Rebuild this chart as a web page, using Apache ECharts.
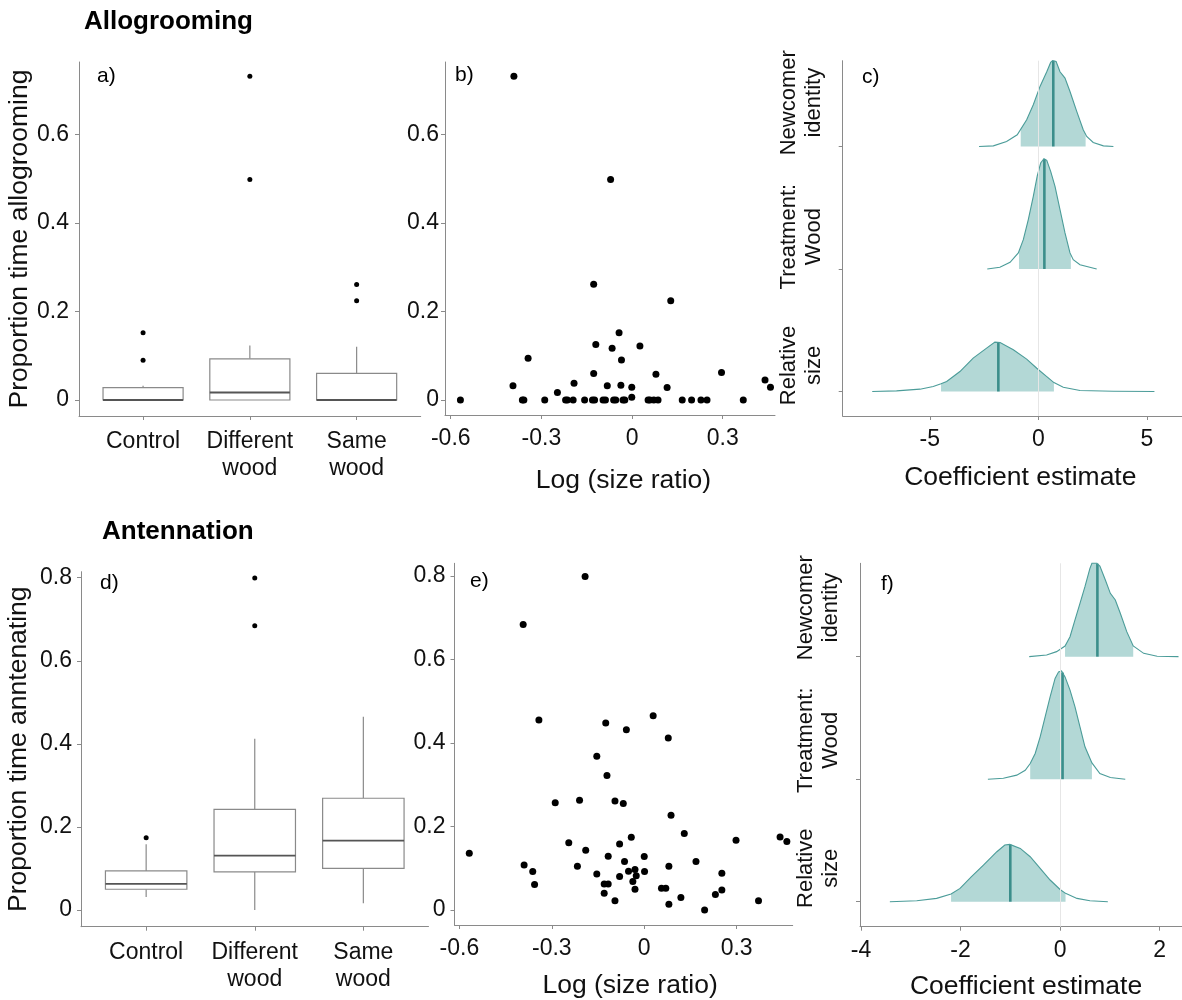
<!DOCTYPE html>
<html>
<head>
<meta charset="utf-8">
<script src="https://cdn.jsdelivr.net/npm/echarts@6/dist/echarts.min.js"></script>
<style>
  html, body { margin: 0; padding: 0; background: #fff; }
  #chart { width: 1182px; height: 1000px; }
</style>
</head>
<body>
<div id="chart"></div>
<script>
// ---------- data ----------
const treatmentCategories = ['Control', 'Different\nwood', 'Same\nwood'];
const effectNames = ['Relative\nsize', 'Treatment:\nWood', 'Newcomer\nidentity']; // rows 1..3, bottom to top

const groomProportionTicks = [0, 0.2, 0.4, 0.6];
const antProportionTicks = [0, 0.2, 0.4, 0.6, 0.8];
const sizeRatioTicks = [-0.6, -0.3, 0, 0.3];
const groomCoefTicks = [-5, 0, 5];
const antCoefTicks = [-4, -2, 0, 2];

// box statistics: [lower whisker, Q1, median, Q3, upper whisker]
const groomBoxStats = [
  [0, 0, 0, 0.028, 0.032],
  [0, 0, 0.017, 0.093, 0.123],
  [0, 0, 0, 0.060, 0.120]
];
const groomOutliers = [[1, 0.152], [1, 0.090], [2, 0.731], [2, 0.498], [3, 0.261], [3, 0.224]];

const antBoxStats = [
  [0.031, 0.050, 0.063, 0.094, 0.158],
  [0.000, 0.092, 0.131, 0.242, 0.412],
  [0.016, 0.100, 0.167, 0.269, 0.465]
];
const antOutliers = [[1, 0.174], [2, 0.799], [2, 0.684]];

// [log size ratio, proportion of time allogrooming]
const groomScatter = [
  [-0.391, 0.731], [-0.071, 0.498], [-0.127, 0.261], [0.128, 0.224], [-0.043, 0.152],
  [-0.120, 0.125], [0.026, 0.122], [-0.066, 0.117], [-0.344, 0.094], [-0.035, 0.090],
  [-0.127, 0.060], [0.079, 0.058], [0.296, 0.062], [-0.192, 0.038], [-0.394, 0.032],
  [-0.082, 0.032], [-0.037, 0.033], [-0.001, 0.029], [0.116, 0.028], [-0.247, 0.017],
  [0.440, 0.045], [0.458, 0.029], [-0.001, 0.006],
  [-0.568, 0], [-0.363, 0], [-0.358, 0], [-0.289, 0], [-0.220, 0], [-0.214, 0], [-0.195, 0],
  [-0.157, 0], [-0.131, 0], [-0.124, 0], [-0.096, 0], [-0.088, 0], [-0.061, 0], [-0.054, 0],
  [-0.030, 0], [-0.024, 0], [0.053, 0], [0.059, 0], [0.072, 0], [0.086, 0], [0.166, 0],
  [0.197, 0], [0.228, 0], [0.248, 0], [0.368, 0]
];

// [log size ratio, proportion of time antennating]
const antScatter = [
  [-0.192, 0.799], [-0.393, 0.684], [-0.342, 0.455], [-0.125, 0.448], [-0.058, 0.432],
  [0.029, 0.465], [0.078, 0.412], [-0.154, 0.368], [-0.121, 0.322], [-0.289, 0.257],
  [-0.210, 0.263], [-0.095, 0.261], [-0.068, 0.255], [0.087, 0.227], [0.130, 0.183],
  [-0.042, 0.174], [0.441, 0.175], [0.463, 0.164], [0.298, 0.167], [-0.245, 0.161],
  [-0.080, 0.158], [-0.568, 0.136], [-0.190, 0.143], [-0.117, 0.129], [0.000, 0.128],
  [-0.064, 0.116], [0.168, 0.116], [-0.390, 0.108], [-0.217, 0.105], [0.080, 0.105],
  [-0.362, 0.092], [-0.051, 0.093], [-0.030, 0.097], [0.001, 0.092], [0.252, 0.088],
  [-0.154, 0.086], [-0.026, 0.082], [-0.080, 0.080], [-0.356, 0.061], [-0.130, 0.062],
  [-0.117, 0.062], [-0.037, 0.068], [-0.030, 0.050], [0.056, 0.052], [0.070, 0.052],
  [0.252, 0.048], [-0.130, 0.040], [0.119, 0.030], [0.231, 0.037], [-0.095, 0.022],
  [0.080, 0.014], [0.371, 0.022], [0.196, 0.000]
];

// posterior density outlines: [coefficient, ridge height in row units]
const groomRidgeRelSize = [[-7.65, 0], [-6.53, 0.005], [-5.45, 0.019], [-4.84, 0.041], [-4.48, 0.063],
  [-4.22, 0.082], [-3.61, 0.163], [-3.0, 0.272], [-2.38, 0.354], [-2.0, 0.403], [-1.76, 0.40],
  [-1.15, 0.34], [-0.535, 0.264], [-0.07, 0.19], [0.39, 0.122], [0.72, 0.073], [1.15, 0.035],
  [1.92, 0.008], [3.46, 0.002], [5.35, 0]];
const groomRidgeWood = [[-2.35, 0], [-1.77, 0.014], [-1.30, 0.054], [-0.92, 0.131], [-0.69, 0.239],
  [-0.46, 0.403], [-0.23, 0.593], [-0.05, 0.757], [0.11, 0.865], [0.26, 0.90], [0.39, 0.887],
  [0.57, 0.797], [0.77, 0.675], [1.0, 0.484], [1.23, 0.294], [1.46, 0.131], [1.61, 0.076],
  [1.92, 0.035], [2.69, 0]];
const groomRidgeNewcomer = [[-2.73, 0], [-2.07, 0.005], [-1.46, 0.04], [-0.97, 0.095], [-0.535, 0.218],
  [-0.23, 0.34], [0.08, 0.49], [0.39, 0.61], [0.57, 0.686], [0.66, 0.70], [0.82, 0.694],
  [1.0, 0.61], [1.23, 0.558], [1.46, 0.449], [1.77, 0.286], [2.07, 0.136], [2.23, 0.082],
  [2.53, 0.033], [3.0, 0.005], [3.46, 0]];
const groomMedians = [-1.84, 0.28, 0.69];
const groomIntervals = [[-4.48, 0.72], [-0.89, 1.50], [-0.81, 2.18]];

const antRidgeRelSize = [[-3.42, 0], [-2.88, 0.008], [-2.48, 0.027], [-2.19, 0.063], [-2.01, 0.109],
  [-1.78, 0.204], [-1.54, 0.299], [-1.27, 0.408], [-1.11, 0.463], [-1.01, 0.468], [-0.80, 0.435],
  [-0.60, 0.367], [-0.40, 0.272], [-0.20, 0.177], [0.0, 0.10], [0.11, 0.068], [0.34, 0.027],
  [0.60, 0.008], [0.96, 0]];
const antRidgeWood = [[-1.45, 0], [-1.14, 0.008], [-0.87, 0.033], [-0.70, 0.073], [-0.60, 0.128],
  [-0.50, 0.21], [-0.40, 0.346], [-0.30, 0.509], [-0.20, 0.672], [-0.10, 0.822], [-0.03, 0.876],
  [0.03, 0.884], [0.10, 0.835], [0.20, 0.727], [0.30, 0.59], [0.40, 0.427], [0.50, 0.264],
  [0.64, 0.133], [0.80, 0.046], [1.01, 0.014], [1.31, 0]];
const antRidgeNewcomer = [[-0.62, 0], [-0.27, 0.014], [-0.07, 0.041], [0.10, 0.087], [0.20, 0.163],
  [0.30, 0.30], [0.40, 0.435], [0.50, 0.571], [0.60, 0.721], [0.64, 0.762], [0.74, 0.762],
  [0.80, 0.74], [0.91, 0.626], [1.01, 0.517], [1.11, 0.463], [1.21, 0.354], [1.34, 0.204],
  [1.47, 0.087], [1.68, 0.027], [1.95, 0.003], [2.38, 0]];
const antMedians = [-1.0, 0.05, 0.75];
const antIntervals = [[-2.19, 0.11], [-0.60, 0.64], [0.10, 1.47]];

// ---------- styling ----------
const FONT = '"Liberation Sans", Arial, Helvetica, sans-serif';
const INK = '#111';
const AXIS_GREY = '#8a8a8a';
const BOX_GREY = '#8a8a8a';
const MEDIAN_GREY = '#555';
const RIDGE_FILL = '#b3d8d6';
const RIDGE_LINE = '#4b9c99';
const RIDGE_MEDIAN = '#3b8e8b';

function axisLineCfg() {
  return { show: true, onZero: false, lineStyle: { color: AXIS_GREY, width: 1 } };
}
function tickCfg(values) {
  return { show: true, length: 4, inside: false, customValues: values, lineStyle: { color: AXIS_GREY, width: 1 } };
}
function labelCfg(values, margin, extra) {
  return Object.assign({
    show: true, customValues: values, margin: margin,
    color: INK, fontSize: 23, fontFamily: FONT
  }, extra || {});
}
function nameStyle(extra) {
  return Object.assign({ color: INK, fontSize: 26.5, fontFamily: FONT }, extra || {});
}

// ---------- series builders ----------
function boxSeries(axisIdx, stats) {
  return {
    type: 'custom', xAxisIndex: axisIdx, yAxisIndex: axisIdx, silent: true, z: 2,
    data: stats.map((s, i) => [i + 1].concat(s)),
    encode: { x: 0, y: [1, 2, 3, 4, 5] },
    renderItem(params, api) {
      const x = api.value(0);
      const w = api.size([0.75, 0])[0];
      const pMin = api.coord([x, api.value(1)]);
      const pQ1 = api.coord([x, api.value(2)]);
      const pMed = api.coord([x, api.value(3)]);
      const pQ3 = api.coord([x, api.value(4)]);
      const pMax = api.coord([x, api.value(5)]);
      const cx = pMed[0];
      const ls = { stroke: BOX_GREY, lineWidth: 1.2, fill: null };
      return {
        type: 'group',
        children: [
          { type: 'line', shape: { x1: cx, y1: pMax[1], x2: cx, y2: pQ3[1] }, style: ls },
          { type: 'line', shape: { x1: cx, y1: pQ1[1], x2: cx, y2: pMin[1] }, style: ls },
          { type: 'rect', shape: { x: cx - w / 2, y: pQ3[1], width: w, height: pQ1[1] - pQ3[1] },
            style: { fill: '#fff', stroke: BOX_GREY, lineWidth: 1.2 } },
          { type: 'line', shape: { x1: cx - w / 2, y1: pMed[1], x2: cx + w / 2, y2: pMed[1] },
            style: { stroke: MEDIAN_GREY, lineWidth: 1.8 } }
        ]
      };
    }
  };
}

function dotSeries(axisIdx, data, size) {
  return {
    type: 'scatter', xAxisIndex: axisIdx, yAxisIndex: axisIdx, silent: true, z: 3,
    data: data, symbol: 'circle', symbolSize: size,
    itemStyle: { color: '#000', opacity: 1, borderWidth: 0 }
  };
}

// linear height along an outline at coefficient x (for the interval edges and median line)
function heightAt(pts, x) {
  for (let k = 1; k < pts.length; k++) {
    if (x <= pts[k][0]) {
      const x0 = pts[k - 1][0], h0 = pts[k - 1][1], x1 = pts[k][0], h1 = pts[k][1];
      return h0 + (x - x0) / (x1 - x0) * (h1 - h0);
    }
  }
  return 0;
}

function ridgeSeries(axisIdx, ridges, medians, intervals) {
  return {
    type: 'custom', xAxisIndex: axisIdx, yAxisIndex: axisIdx, silent: true, z: 3,
    data: medians.map((m, i) => [m, i + 1]),
    encode: { x: 0, y: 1 },
    renderItem(params, api) {
      const i = params.dataIndex;
      const pts = ridges[i];
      const base = i + 1;
      const P = (x, h) => api.coord([x, base + h]);
      const curve = pts.map(p => P(p[0], p[1]));
      const outline = [P(pts[0][0], 0)].concat(curve, [P(pts[pts.length - 1][0], 0)]);
      const lo = intervals[i][0], hi = intervals[i][1];
      const inner = [P(lo, 0), P(lo, heightAt(pts, lo))]
        .concat(pts.filter(p => p[0] > lo && p[0] < hi).map(p => P(p[0], p[1])))
        .concat([P(hi, heightAt(pts, hi)), P(hi, 0)]);
      const m = medians[i];
      const mBot = P(m, 0), mTop = P(m, heightAt(pts, m));
      return {
        type: 'group',
        children: [
          { type: 'polygon', shape: { points: outline }, style: { fill: '#fff', stroke: null } },
          { type: 'polygon', shape: { points: inner }, style: { fill: RIDGE_FILL, stroke: null } },
          { type: 'line', shape: { x1: mBot[0], y1: mBot[1], x2: mTop[0], y2: mTop[1] },
            style: { stroke: RIDGE_MEDIAN, lineWidth: 2.6 } },
          { type: 'polyline', shape: { points: curve },
            style: { stroke: RIDGE_LINE, lineWidth: 1.1, fill: null } }
        ]
      };
    }
  };
}

function zeroLine(axisIdx) {
  return {
    type: 'line', xAxisIndex: axisIdx, yAxisIndex: axisIdx, data: [], silent: true, z: 1,
    markLine: {
      silent: true, symbol: 'none', label: { show: false },
      lineStyle: { color: '#e6e6e6', width: 1, type: 'solid' },
      data: [{ xAxis: 0 }]
    }
  };
}

// ---------- layout ----------
const grids = [
  { left: 79, top: 62, width: 341.7, height: 354 },      // a
  { left: 445, top: 62, width: 330, height: 353 },       // b
  { left: 842.7, top: 60.7, width: 339.3, height: 355.3 }, // c
  { left: 81, top: 571.7, width: 347.5, height: 355 },   // d
  { left: 454.5, top: 563.3, width: 338.2, height: 361.7 }, // e
  { left: 860, top: 563.3, width: 322, height: 363.4 }   // f
].map(g => Object.assign({ containLabel: false, outerBoundsMode: 'none', show: false }, g));

const catLabel = { formatter: v => treatmentCategories[Math.round(v) - 1], lineHeight: 27 };
const effectLabel = {
  formatter: v => effectNames[Math.round(v) - 1],
  rotate: 90, align: 'center', verticalAlign: 'bottom', lineHeight: 25, fontSize: 22
};

const xAxes = [
  { gridIndex: 0, type: 'value', min: 0.4, max: 3.6,
    axisLine: axisLineCfg(), axisTick: tickCfg([1, 2, 3]),
    axisLabel: labelCfg([1, 2, 3], 12, catLabel), splitLine: { show: false } },
  { gridIndex: 1, type: 'value', min: -0.619, max: 0.473,
    axisLine: axisLineCfg(), axisTick: tickCfg(sizeRatioTicks),
    axisLabel: labelCfg(sizeRatioTicks, 12), splitLine: { show: false },
    name: 'Log (size ratio)', nameLocation: 'middle', nameGap: 52,
    nameTextStyle: nameStyle({ padding: [0, 0, 0, 27] }) },
  { gridIndex: 2, type: 'value', min: -9.01, max: 6.62,
    axisLine: axisLineCfg(), axisTick: tickCfg(groomCoefTicks),
    axisLabel: labelCfg(groomCoefTicks, 12), splitLine: { show: false },
    name: 'Coefficient estimate', nameLocation: 'middle', nameGap: 48,
    nameTextStyle: nameStyle({ padding: [0, 0, 0, 16] }) },
  { gridIndex: 3, type: 'value', min: 0.4, max: 3.6,
    axisLine: axisLineCfg(), axisTick: tickCfg([1, 2, 3]),
    axisLabel: labelCfg([1, 2, 3], 12, catLabel), splitLine: { show: false } },
  { gridIndex: 4, type: 'value', min: -0.616, max: 0.482,
    axisLine: axisLineCfg(), axisTick: tickCfg(sizeRatioTicks),
    axisLabel: labelCfg(sizeRatioTicks, 12), splitLine: { show: false },
    name: 'Log (size ratio)', nameLocation: 'middle', nameGap: 47,
    nameTextStyle: nameStyle({ padding: [0, 0, 0, 13] }) },
  { gridIndex: 5, type: 'value', min: -4.02, max: 2.45,
    axisLine: axisLineCfg(), axisTick: tickCfg(antCoefTicks),
    axisLabel: labelCfg(antCoefTicks, 12), splitLine: { show: false },
    name: 'Coefficient estimate', nameLocation: 'middle', nameGap: 46,
    nameTextStyle: nameStyle({ padding: [0, 0, 0, 10] }) }
];

const yAxes = [
  { gridIndex: 0, type: 'value', min: -0.0361, max: 0.763,
    axisLine: axisLineCfg(), axisTick: tickCfg(groomProportionTicks),
    axisLabel: labelCfg(groomProportionTicks, 10), splitLine: { show: false },
    name: 'Proportion time allogrooming', nameLocation: 'middle', nameGap: 45,
    nameTextStyle: nameStyle() },
  { gridIndex: 1, type: 'value', min: -0.0339, max: 0.763,
    axisLine: axisLineCfg(), axisTick: tickCfg(groomProportionTicks),
    axisLabel: labelCfg(groomProportionTicks, 6), splitLine: { show: false } },
  { gridIndex: 2, type: 'value', min: 0.80, max: 3.70,
    axisLine: axisLineCfg(), axisTick: tickCfg([1, 2, 3]),
    axisLabel: labelCfg([1.213, 2.264, 3.357], 16, effectLabel), splitLine: { show: false } },
  { gridIndex: 3, type: 'value', min: -0.0402, max: 0.8144,
    axisLine: axisLineCfg(), axisTick: tickCfg(antProportionTicks),
    axisLabel: labelCfg(antProportionTicks, 9), splitLine: { show: false },
    name: 'Proportion time anntenating', nameLocation: 'middle', nameGap: 49,
    nameTextStyle: nameStyle() },
  { gridIndex: 4, type: 'value', min: -0.0359, max: 0.8304,
    axisLine: axisLineCfg(), axisTick: tickCfg(antProportionTicks),
    axisLabel: labelCfg(antProportionTicks, 9), splitLine: { show: false } },
  { gridIndex: 5, type: 'value', min: 0.796, max: 3.762,
    axisLine: axisLineCfg(), axisTick: tickCfg([1, 2, 3]),
    axisLabel: labelCfg([1.273, 2.318, 3.40], 17, effectLabel), splitLine: { show: false } }
];

function textEl(text, x, y, font) {
  return {
    type: 'text', x: x, y: y, silent: true,
    style: { text: text, font: font, fill: '#000', align: 'left', verticalAlign: 'middle',
             textAlign: 'left', textVerticalAlign: 'middle' }
  };
}
const headFont = 'bold 26px ' + FONT;
const tagFont = '21px ' + FONT;

const option = {
  animation: false,
  backgroundColor: '#fff',
  textStyle: { fontFamily: FONT },
  grid: grids,
  xAxis: xAxes,
  yAxis: yAxes,
  graphic: { elements: [
    textEl('Allogrooming', 84, 22, headFont),
    textEl('Antennation', 102, 532, headFont),
    textEl('a)', 97, 76.5, tagFont),
    textEl('b)', 455, 75, tagFont),
    textEl('c)', 862, 77, tagFont),
    textEl('d)', 100, 583, tagFont),
    textEl('e)', 470, 581.5, tagFont),
    textEl('f)', 881, 584, tagFont)
  ] },
  series: [
    boxSeries(0, groomBoxStats),
    dotSeries(0, groomOutliers, 5),
    dotSeries(1, groomScatter, 7),
    zeroLine(2),
    ridgeSeries(2, [groomRidgeRelSize, groomRidgeWood, groomRidgeNewcomer], groomMedians, groomIntervals),
    boxSeries(3, antBoxStats),
    dotSeries(3, antOutliers, 5),
    dotSeries(4, antScatter, 7),
    zeroLine(5),
    ridgeSeries(5, [antRidgeRelSize, antRidgeWood, antRidgeNewcomer], antMedians, antIntervals)
  ]
};

const chart = echarts.init(document.getElementById('chart'), null, { renderer: 'canvas', width: 1182, height: 1000 });
chart.setOption(option);
</script>
</body>
</html>
